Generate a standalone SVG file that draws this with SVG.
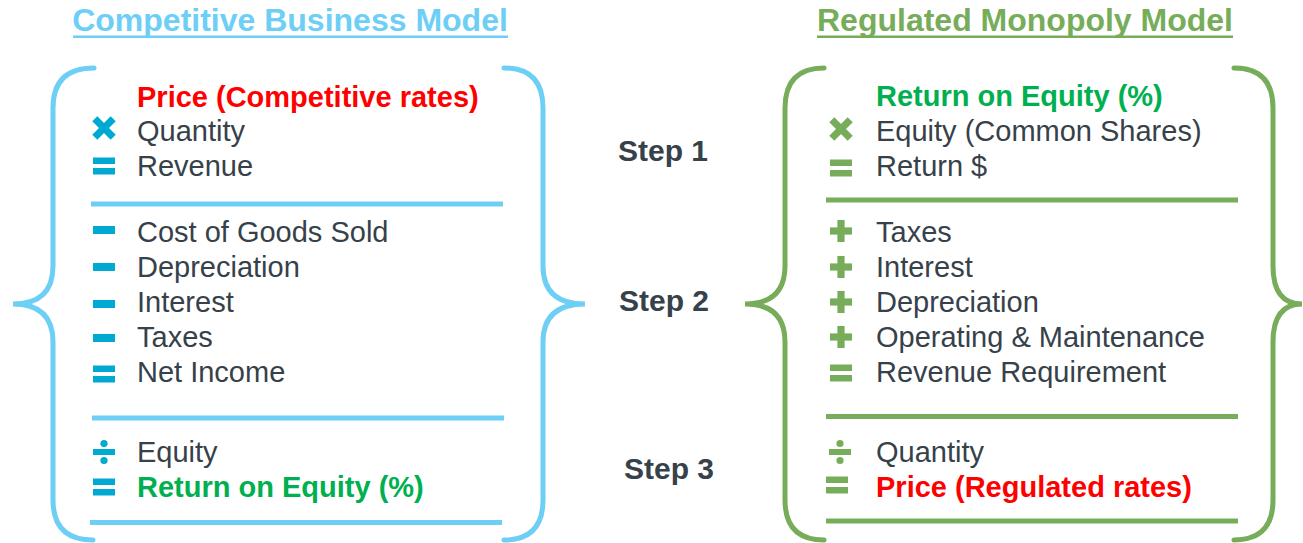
<svg xmlns="http://www.w3.org/2000/svg" width="1303" height="543" viewBox="0 0 1303 543">
<style>
text{font-family:"Liberation Sans",Arial,sans-serif}
.t{font-size:29px;fill:#36414A}
.b{font-weight:bold}
.red{fill:#FF0000}
.grn{fill:#00B050}
.step{font-size:30px;font-weight:bold;fill:#36414A}
.ttlL{font-size:32px;font-weight:bold;fill:#6DCFF6}
.ttlR{font-size:32px;font-weight:bold;fill:#77AD5A}
.braceL{fill:none;stroke:#6DCFF6;stroke-width:5;stroke-linecap:round}
.braceR{fill:none;stroke:#77AD5A;stroke-width:5;stroke-linecap:round}
.sepL{stroke:#6DCFF6;stroke-width:5}
.sepR{stroke:#77AD5A;stroke-width:5}
.sL{fill:#00A9D1}
.sR{fill:#77AD5A}
</style>
<defs>
<g id="times"><rect x="-13" y="-3.6" width="26" height="7.2"/><rect x="-3.6" y="-13" width="7.2" height="26"/></g>
<g id="eq"><rect x="-11" y="-8.5" width="22" height="6.5"/><rect x="-11" y="2" width="22" height="6.5"/></g>
<g id="minus"><rect x="-11" y="-4" width="22" height="8"/></g>
<g id="div"><rect x="-11" y="-3" width="22" height="6"/><circle cx="0" cy="-8.5" r="3.6"/><circle cx="0" cy="8.5" r="3.6"/></g>
<g id="plus"><rect x="-11" y="-3.6" width="22" height="7.2"/><rect x="-3.6" y="-11" width="7.2" height="22"/></g>
</defs>

<g id="title-left">
<text class="ttlL" x="290" y="31" text-anchor="middle">Competitive Business Model</text>
<rect x="73" y="35.5" width="435" height="2.5" fill="#6DCFF6"/>
</g>
<g id="title-right">
<text class="ttlR" x="1025" y="31" text-anchor="middle">Regulated Monopoly Model</text>
<rect x="817" y="35.5" width="416" height="2.5" fill="#77AD5A"/>
</g>

<g id="competitive-model">
<path class="braceL" d="M94 68 Q53 68 53 108 L53 266 Q53 304 13 304 Q53 304 53 342 L53 500 Q53 540 93 540"/>
<path class="braceL" d="M504 68 Q543 68 543 108 L543 266 Q543 304 585 304 Q543 304 543 342 L543 500 Q543 540 504 540"/>
<line class="sepL" x1="91" y1="204" x2="503" y2="204"/>
<line class="sepL" x1="92" y1="418" x2="504" y2="418"/>
<line class="sepL" x1="90" y1="522.5" x2="502" y2="522.5"/>
<text class="t b red" x="137" y="107">Price (Competitive rates)</text>
<use href="#times" class="sL" transform="translate(104 128) rotate(45)"/>
<text class="t" x="137" y="141">Quantity</text>
<use href="#eq" class="sL" x="104" y="166"/>
<text class="t" x="137" y="176">Revenue</text>
<use href="#minus" class="sL" x="104" y="230"/>
<text class="t" x="137" y="242">Cost of Goods Sold</text>
<use href="#minus" class="sL" x="104" y="267"/>
<text class="t" x="137" y="277">Depreciation</text>
<use href="#minus" class="sL" x="104" y="304"/>
<text class="t" x="137" y="312">Interest</text>
<use href="#minus" class="sL" x="104" y="338"/>
<text class="t" x="137" y="347">Taxes</text>
<use href="#eq" class="sL" x="104" y="374"/>
<text class="t" x="137" y="382">Net Income</text>
<use href="#div" class="sL" x="104" y="452"/>
<text class="t" x="137" y="462">Equity</text>
<use href="#eq" class="sL" x="104" y="487"/>
<text class="t b grn" x="137" y="497">Return on Equity (%)</text>
</g>

<g id="steps">
<text class="step" x="663" y="161" text-anchor="middle">Step 1</text>
<text class="step" x="664" y="311" text-anchor="middle">Step 2</text>
<text class="step" x="669" y="479" text-anchor="middle">Step 3</text>
</g>

<g id="regulated-model">
<path class="braceR" d="M824 68 Q785 68 785 108 L785 266 Q785 304 745 304 Q785 304 785 342 L785 500 Q785 540 824 540"/>
<path class="braceR" d="M1234 68 Q1273 68 1273 108 L1273 266 Q1273 304 1302 304 Q1273 304 1273 342 L1273 500 Q1273 540 1234 540"/>
<line class="sepR" x1="826" y1="200" x2="1238" y2="200"/>
<line class="sepR" x1="826" y1="416.5" x2="1238" y2="416.5"/>
<line class="sepR" x1="826" y1="521" x2="1238" y2="521"/>
<text class="t b grn" x="876" y="106">Return on Equity (%)</text>
<use href="#times" class="sR" transform="translate(841 129) rotate(45)"/>
<text class="t" x="876" y="141">Equity (Common Shares)</text>
<use href="#eq" class="sR" x="841" y="168"/>
<text class="t" x="876" y="176">Return $</text>
<use href="#plus" class="sR" x="841" y="231"/>
<text class="t" x="876" y="242">Taxes</text>
<use href="#plus" class="sR" x="841" y="267"/>
<text class="t" x="876" y="277">Interest</text>
<use href="#plus" class="sR" x="841" y="302"/>
<text class="t" x="876" y="312">Depreciation</text>
<use href="#plus" class="sR" x="841" y="337"/>
<text class="t" x="876" y="347">Operating &amp; Maintenance</text>
<use href="#eq" class="sR" x="841" y="373"/>
<text class="t" x="876" y="382">Revenue Requirement</text>
<use href="#div" class="sR" x="840" y="452"/>
<text class="t" x="876" y="462">Quantity</text>
<use href="#eq" class="sR" x="837" y="485"/>
<text class="t b red" x="876" y="497">Price (Regulated rates)</text>
</g>
</svg>
